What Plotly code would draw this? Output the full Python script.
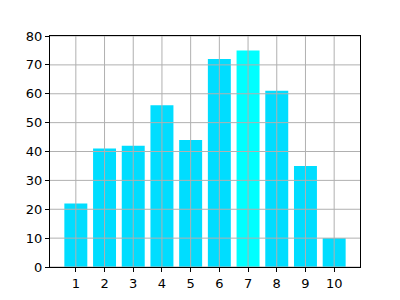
import plotly.graph_objects as go

categories = [1, 2, 3, 4, 5, 6, 7, 8, 9, 10]
values = [22, 41, 42, 56, 44, 72, 75, 61, 35, 10]
y_ticks = list(range(0, 81, 10))
colors = ["#00DDFF"] * 10
colors[6] = "#00FFFF"

fig = go.Figure(go.Bar(x=categories, y=values, width=0.8,
                       marker=dict(color=colors, line=dict(width=0))))

axis_common = dict(showline=True, linecolor="black", linewidth=1, mirror=True,
                   ticks="outside", ticklen=4, tickcolor="black",
                   showgrid=False, zeroline=False, layer="above traces",
                   automargin=False,
                   tickfont=dict(family="DejaVu Sans", size=13, color="black"))

grid = dict(color="#b0b0b0", width=1)
shapes = []
for t in categories:
    shapes.append(dict(type="line", xref="x", yref="paper", x0=t, x1=t, y0=0, y1=1,
                       line=grid, layer="above"))
for t in y_ticks:
    shapes.append(dict(type="line", xref="paper", yref="y", x0=0, x1=1, y0=t, y1=t,
                       line=grid, layer="above"))

fig.update_layout(
    width=400, height=300,
    margin=dict(l=50, r=40, t=36, b=33),
    paper_bgcolor="white", plot_bgcolor="white",
    showlegend=False, shapes=shapes,
    xaxis=dict(range=[0.1, 10.9], tickmode="array", tickvals=categories, **axis_common),
    yaxis=dict(range=[0, 80], tickmode="array", tickvals=y_ticks, **axis_common),
)

fig.write_html("out.html")
